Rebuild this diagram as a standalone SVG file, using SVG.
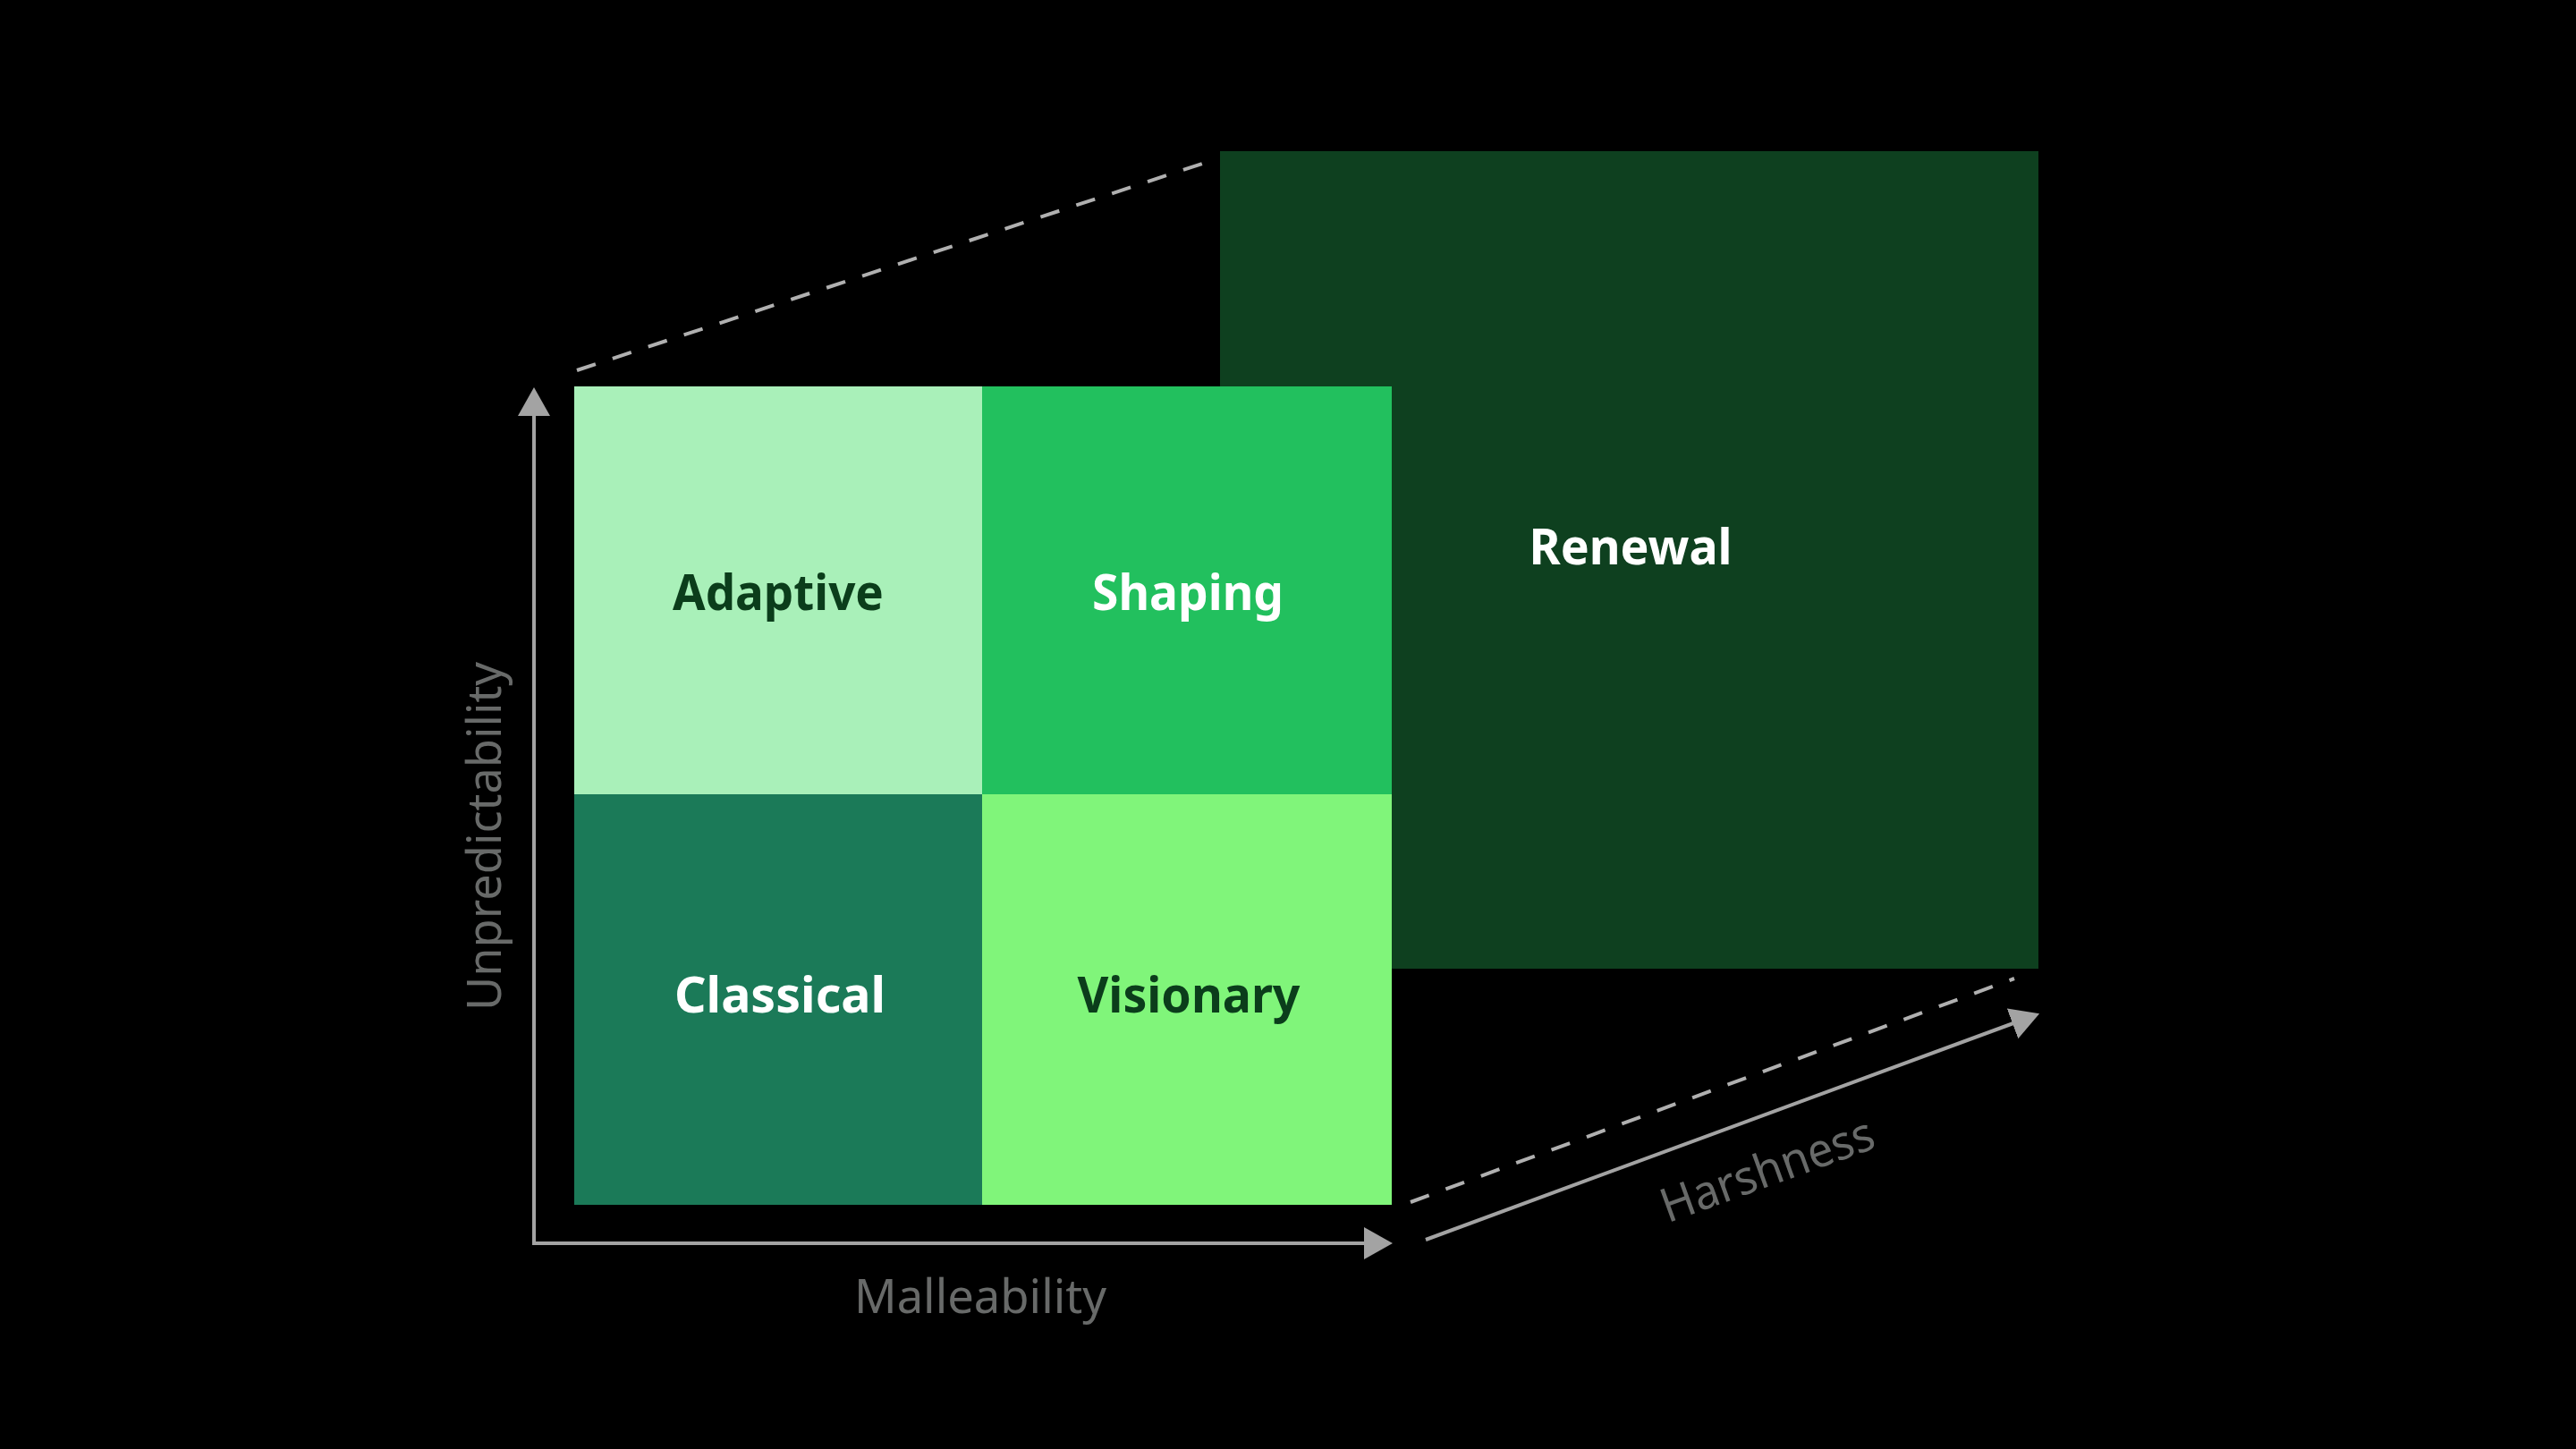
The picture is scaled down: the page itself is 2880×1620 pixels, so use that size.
<svg xmlns="http://www.w3.org/2000/svg" width="2880" height="1620" viewBox="0 0 2880 1620">
  <style>
    .cell-label { font-family: "Noto Sans", "Liberation Sans", sans-serif; font-size: 56px; font-weight: 700; text-anchor: middle; }
    .axis-label { font-family: "Noto Sans", "Liberation Sans", sans-serif; font-size: 53px; font-weight: 400; fill: #686a69; text-anchor: middle; }
    .axis { stroke: #a3a3a3; stroke-width: 4; fill: none; }
    .dash { stroke: #b0b0b0; stroke-width: 4; fill: none; stroke-dasharray: 22 20; }
  </style>
  <defs>
    <marker id="ah" markerUnits="userSpaceOnUse" markerWidth="34" markerHeight="36" refX="1" refY="18" orient="auto">
      <path d="M0,0 L32,18 L0,36 z" fill="#a3a3a3"/>
    </marker>
  </defs>
  <rect x="0" y="0" width="2880" height="1620" fill="#000000"/>

  <g id="renewal">
    <rect x="1364" y="169" width="915" height="914" fill="#0e401f"/>
    <text class="cell-label" x="1823" y="631" fill="#ffffff" font-weight="600" textLength="227" lengthAdjust="spacingAndGlyphs">Renewal</text>
  </g>

  <g id="adaptive">
    <rect x="642" y="432" width="457" height="457" fill="#a9f0b9"/>
    <text class="cell-label" x="870" y="682" fill="#0b3d1b" textLength="236" lengthAdjust="spacingAndGlyphs">Adaptive</text>
  </g>
  <g id="shaping">
    <rect x="1098" y="432" width="458" height="457" fill="#22c05e"/>
    <text class="cell-label" x="1328" y="682" fill="#ffffff" textLength="214" lengthAdjust="spacingAndGlyphs">Shaping</text>
  </g>
  <g id="classical">
    <rect x="642" y="888" width="457" height="459" fill="#1b7a58"/>
    <text class="cell-label" x="872" y="1132" fill="#ffffff" textLength="236" lengthAdjust="spacingAndGlyphs">Classical</text>
  </g>
  <g id="visionary">
    <rect x="1098" y="888" width="458" height="459" fill="#80f57a"/>
    <text class="cell-label" x="1329" y="1132" fill="#0b3d1b" textLength="249" lengthAdjust="spacingAndGlyphs">Visionary</text>
  </g>

  <g id="connectors">
    <line class="dash" x1="645" y1="414" x2="1356" y2="179"/>
    <line class="dash" x1="1577" y1="1344" x2="2252" y2="1094"/>
    <line class="axis" x1="597" y1="1392" x2="597" y2="464" marker-end="url(#ah)"/>
    <line class="axis" x1="595" y1="1390" x2="1526" y2="1390" marker-end="url(#ah)"/>
    <line class="axis" x1="1594" y1="1386" x2="2251" y2="1144" marker-end="url(#ah)"/>
  </g>

  <g id="axis-labels">
    <text class="axis-label" x="1096" y="1468" textLength="282" lengthAdjust="spacingAndGlyphs">Malleability</text>
    <text class="axis-label" transform="translate(560,935) rotate(-90)" x="0" y="0" textLength="390" lengthAdjust="spacingAndGlyphs">Unpredictability</text>
    <text class="axis-label" transform="translate(1982,1325) rotate(-19.9)" x="0" y="0" textLength="250" lengthAdjust="spacingAndGlyphs">Harshness</text>
  </g>
</svg>
